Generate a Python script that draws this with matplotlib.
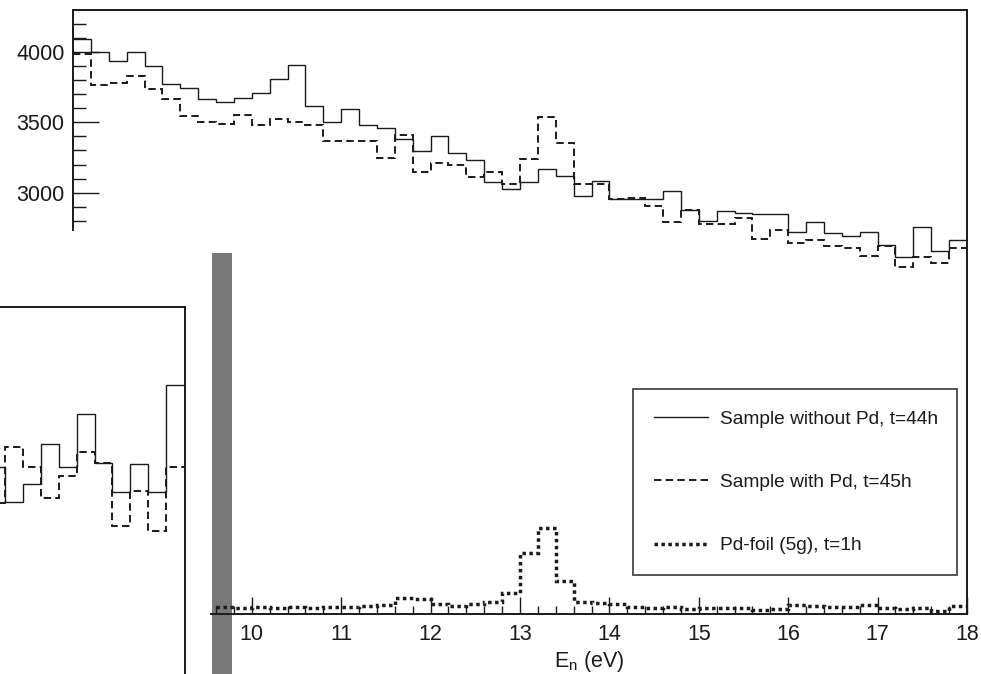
import numpy as np
import matplotlib
matplotlib.use("Agg")
import matplotlib.pyplot as plt
from matplotlib.patches import Rectangle
from matplotlib.lines import Line2D

plt.rcParams['font.family'] = ['Liberation Sans', 'DejaVu Sans']
plt.rcParams['mathtext.fontset'] = 'custom'
plt.rcParams['mathtext.rm'] = 'Liberation Sans'
plt.rcParams['mathtext.it'] = 'Liberation Sans'

# ---------------- data ----------------
# main histograms, 0.2 eV bins from 8.0 to 18.0 eV (counts)
bin_start, bin_stop = 8.0, 18.0
without_pd = [4097, 4003, 3939, 4000, 3898, 3775, 3747, 3664, 3647, 3676,
              3711, 3811, 3908, 3620, 3503, 3597, 3479, 3462, 3379, 3294,
              3403, 3280, 3232, 3077, 3024, 3077, 3166, 3115, 2976, 3083,
              2953, 2955, 2953, 3008, 2877, 2798, 2870, 2858, 2846, 2846,
              2723, 2791, 2709, 2693, 2716, 2629, 2545, 2758, 2581, 2661]
with_pd = [3990, 3765, 3780, 3830, 3740, 3664, 3545, 3503, 3486, 3552,
           3481, 3523, 3504, 3480, 3370, 3370, 3365, 3244, 3408, 3149,
           3208, 3196, 3108, 3149, 3064, 3237, 3535, 3352, 3064, 3064,
           2957, 2960, 2903, 2791, 2877, 2780, 2780, 2822, 2668, 2732,
           2638, 2665, 2617, 2603, 2551, 2620, 2467, 2545, 2502, 2609]
# Pd foil, 0.2 eV bins from 9.6 to 18.0 eV
foil_start = 9.6
pd_foil = [52, 45, 52, 41, 48, 43, 52, 48, 59, 64,
           112, 105, 69, 59, 73, 83, 150, 436, 614, 235,
           83, 76, 71, 52, 41, 52, 33, 45, 45, 41,
           28, 33, 64, 57, 48, 52, 64, 41, 38, 41,
           21, 57]
# partial neighbouring panel (lower left), arbitrary units
inset_solid = [207, 172, 190, 230, 207, 260, 211, 182, 210, 182, 289]
inset_dashed = [171, 227, 207, 176, 198, 222, 211, 148, 183, 143, 207]

labels = ["Sample without Pd, t=44h", "Sample with Pd, t=45h", "Pd-foil (5g), t=1h"]
x_major = [10, 11, 12, 13, 14, 15, 16, 17, 18]
y_major = [3000, 3500, 4000]

# ---------------- figure ----------------
W, H = 981, 674
fig = plt.figure(figsize=(W / 100, H / 100), dpi=100)
fig.patch.set_facecolor('white')

def fx(px):
    return px / W

def fy(py):
    return 1 - py / H

ink = '#1a1a1a'
dash = (0, (3.8, 2.2))
dots = (0, (1, 1))
tick_fs = 15.5

# grey vertical bar
fig.patches.append(Rectangle((fx(212), 0), fx(232) - fx(212), fy(253),
                             transform=fig.transFigure, facecolor='#787878',
                             edgecolor='none', zorder=-5))

# main axes
ax = fig.add_axes([fx(73), fy(614), fx(967) - fx(73), fy(10) - fy(614)])
ax.patch.set_visible(False)
edges = np.linspace(bin_start, bin_stop, len(without_pd) + 1)
ax.stairs(without_pd, edges, baseline=None, color=ink, lw=1.0)
ax.stairs(with_pd, edges, baseline=None, color=ink, lw=1.4, linestyle=dash)
fedges = np.linspace(foil_start, bin_stop, len(pd_foil) + 1)
ax.stairs(pd_foil, fedges, baseline=None, color=ink, lw=2.5, linestyle=dots)

x_left = 9.54
ax.set_xlim(8, 18)
ax.set_ylim(0, 4300)
for s in ax.spines.values():
    s.set_linewidth(1.4)
    s.set_color(ink)
ax.spines['bottom'].set_bounds(x_left, 18)
ax.spines['left'].set_bounds(2735, 4300)

ax.set_xticks(x_major)
ax.set_xticks([v / 10 for v in range(96, 180, 2) if v % 10 != 0], minor=True)
ax.set_yticks(y_major)
ax.set_yticks([v for v in range(2800, 4300, 100) if v % 500 != 0], minor=True)
ax.tick_params(axis='x', which='major', direction='in', length=12.5, width=1.0,
               labelsize=tick_fs, pad=7, colors=ink, top=False)
ax.tick_params(axis='x', which='minor', direction='in', length=5.5, width=1.0,
               top=False, colors=ink)
ax.tick_params(axis='y', which='major', direction='in', length=19, width=1.0,
               labelsize=tick_fs, pad=6, colors=ink, right=False)
ax.tick_params(axis='y', which='minor', direction='in', length=9.5, width=1.0,
               right=False, colors=ink)
ax.set_xlabel(r'E$_\mathrm{n}$ (eV)', fontsize=tick_fs, color=ink)
ax.xaxis.set_label_coords((589.5 - 73) / (967 - 73), -0.058)

handles = [Line2D([], [], color=ink, lw=1.0),
           Line2D([], [], color=ink, lw=1.4, linestyle=dash),
           Line2D([], [], color=ink, lw=2.5, linestyle=dots)]
leg = fig.legend(handles, labels, loc='upper left',
                 bbox_to_anchor=(fx(633), fy(578), fx(957) - fx(633), fy(389) - fy(578)),
                 bbox_transform=fig.transFigure, mode='expand', borderaxespad=0,
                 fontsize=13.8, frameon=True, fancybox=False, handlelength=2.8,
                 handletextpad=0.62, labelspacing=2.4, borderpad=1.1)
leg.get_frame().set_edgecolor(ink)
leg.get_frame().set_linewidth(1.3)
for t in leg.get_texts():
    t.set_color(ink)

# lower-left partial panel
ax2 = fig.add_axes([fx(-30), 0, fx(185) - fx(-30), fy(307)])
k_edges = np.arange(-1, len(inset_solid))
ax2.stairs(inset_solid, k_edges, baseline=None, color=ink, lw=1.0)
ax2.stairs(inset_dashed, k_edges, baseline=None, color=ink, lw=1.4, linestyle=dash)
ax2.set_xlim(-1.955, 10.05)
ax2.set_ylim(0, 367)
ax2.set_xticks([])
ax2.set_yticks([])
for side in ['left', 'bottom']:
    ax2.spines[side].set_visible(False)
for side in ['top', 'right']:
    ax2.spines[side].set_linewidth(1.4)
    ax2.spines[side].set_color(ink)

fig.savefig('out.png', dpi=100)
